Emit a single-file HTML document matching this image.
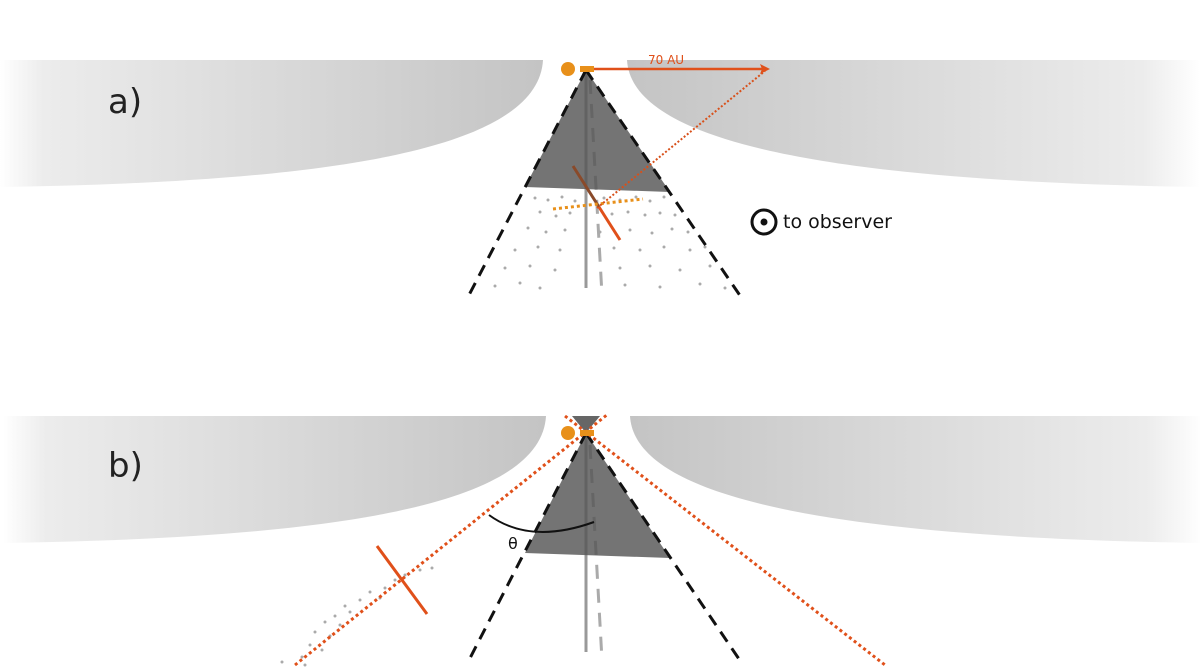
<!DOCTYPE html>
<html><head><meta charset="utf-8"><style>body{margin:0;background:#fff}svg{display:block}</style></head><body>
<svg width="1200" height="672" viewBox="0 0 1200 672" xmlns="http://www.w3.org/2000/svg" font-family="DejaVu Sans, Liberation Sans, sans-serif">
<defs>
<linearGradient id="gl" x1="0" x2="1" y1="0" y2="0"><stop offset="0" stop-color="#fff"/><stop offset="0.08" stop-color="#ececec"/><stop offset="1" stop-color="#c4c4c4"/></linearGradient>
<linearGradient id="gr" x1="0" x2="1" y1="0" y2="0"><stop offset="0" stop-color="#c4c4c4"/><stop offset="0.9" stop-color="#ececec"/><stop offset="1" stop-color="#fff"/></linearGradient>
<g id="disk">
<path d="M0,0 L543,0 C538,90 330,122 0,127 Z" fill="url(#gl)"/>
<path d="M627,0 L1200,0 L1200,127 C870,122 632,90 627,0 Z" fill="url(#gr)"/>
</g>
<g id="dots" fill="#aaa">
<circle cx="535" cy="198" r="1.5"/><circle cx="548" cy="200" r="1.5"/><circle cx="562" cy="197" r="1.5"/><circle cx="575" cy="201" r="1.5"/><circle cx="604" cy="198" r="1.5"/><circle cx="620" cy="200" r="1.5"/><circle cx="636" cy="197" r="1.5"/><circle cx="650" cy="201" r="1.5"/><circle cx="664" cy="197" r="1.5"/>
<circle cx="540" cy="212" r="1.5"/><circle cx="556" cy="216" r="1.5"/><circle cx="570" cy="213" r="1.5"/><circle cx="612" cy="214" r="1.5"/><circle cx="628" cy="212" r="1.5"/><circle cx="645" cy="215" r="1.5"/><circle cx="660" cy="213" r="1.5"/><circle cx="675" cy="215" r="1.5"/>
<circle cx="528" cy="228" r="1.5"/><circle cx="546" cy="232" r="1.5"/><circle cx="565" cy="230" r="1.5"/><circle cx="600" cy="232" r="1.5"/><circle cx="630" cy="230" r="1.5"/><circle cx="652" cy="233" r="1.5"/><circle cx="672" cy="229" r="1.5"/><circle cx="688" cy="232" r="1.5"/>
<circle cx="515" cy="250" r="1.5"/><circle cx="538" cy="247" r="1.5"/><circle cx="560" cy="250" r="1.5"/><circle cx="614" cy="248" r="1.5"/><circle cx="640" cy="250" r="1.5"/><circle cx="664" cy="247" r="1.5"/><circle cx="690" cy="250" r="1.5"/><circle cx="705" cy="247" r="1.5"/>
<circle cx="505" cy="268" r="1.5"/><circle cx="530" cy="266" r="1.5"/><circle cx="555" cy="270" r="1.5"/><circle cx="620" cy="268" r="1.5"/><circle cx="650" cy="266" r="1.5"/><circle cx="680" cy="270" r="1.5"/><circle cx="710" cy="266" r="1.5"/>
<circle cx="495" cy="286" r="1.5"/><circle cx="520" cy="283" r="1.5"/><circle cx="540" cy="288" r="1.5"/><circle cx="625" cy="285" r="1.5"/><circle cx="660" cy="287" r="1.5"/><circle cx="700" cy="284" r="1.5"/><circle cx="725" cy="288" r="1.5"/>
</g>
</defs>
<!-- panel a -->
<use href="#disk" transform="translate(0,60)"/>
<text x="108" y="113" font-size="34" fill="#222">a)</text>
<use href="#dots"/>
<line x1="586" y1="70" x2="586" y2="288" stroke="#999" stroke-width="3"/>
<line x1="590" y1="80" x2="602" y2="295" stroke="#aaa" stroke-width="3" stroke-dasharray="14,10"/>
<polygon points="586,70 525,187 670,192" fill="#555" opacity="0.82"/>
<line x1="586" y1="70" x2="468" y2="297" stroke="#111" stroke-width="3" stroke-dasharray="12,8"/>
<line x1="586" y1="70" x2="741" y2="297" stroke="#111" stroke-width="3" stroke-dasharray="12,8"/>
<line x1="573" y1="166" x2="599" y2="207" stroke="#8a4a2a" stroke-width="3"/>
<line x1="599" y1="207" x2="620" y2="240" stroke="#e0501a" stroke-width="3"/>
<line x1="553" y1="209" x2="643" y2="199" stroke="#e8901a" stroke-width="3" stroke-dasharray="3,3"/>
<line x1="597" y1="208" x2="765" y2="71" stroke="#d8501a" stroke-width="2" stroke-dasharray="2,2"/>
<line x1="585" y1="69" x2="762" y2="69" stroke="#e0501a" stroke-width="2.5"/>
<polygon points="770,69 760,64 762,69 760,74" fill="#e0501a"/>
<rect x="580" y="66" width="14" height="6" fill="#e8901a"/>
<circle cx="568" cy="69" r="7" fill="#e8901a"/>
<text x="648" y="64" font-size="12" fill="#e0501a">70 AU</text>
<circle cx="764" cy="222" r="12" fill="none" stroke="#111" stroke-width="3"/>
<circle cx="764" cy="222" r="3.5" fill="#111"/>
<text x="783" y="228" font-size="19" fill="#111">to observer</text>
<!-- panel b -->
<use href="#disk" transform="translate(3,416)"/>
<text x="108" y="477" font-size="34" fill="#222">b)</text>
<line x1="586" y1="433" x2="586" y2="652" stroke="#999" stroke-width="3"/>
<line x1="590" y1="445" x2="602" y2="660" stroke="#aaa" stroke-width="3" stroke-dasharray="14,10"/>
<polygon points="586,433 525,553 670,558" fill="#555" opacity="0.82"/>
<line x1="586" y1="433" x2="468" y2="662" stroke="#111" stroke-width="3" stroke-dasharray="12,8"/>
<line x1="586" y1="433" x2="741" y2="662" stroke="#111" stroke-width="3" stroke-dasharray="12,8"/>
<polygon points="572,416 600,416 586,433" fill="#666"/>
<g fill="#aaa">
<circle cx="420" cy="570" r="1.5"/><circle cx="432" cy="568" r="1.5"/><circle cx="405" cy="575" r="1.5"/><circle cx="395" cy="580" r="1.5"/><circle cx="385" cy="588" r="1.5"/><circle cx="370" cy="592" r="1.5"/><circle cx="360" cy="600" r="1.5"/><circle cx="380" cy="598" r="1.5"/><circle cx="345" cy="606" r="1.5"/><circle cx="335" cy="616" r="1.5"/><circle cx="350" cy="612" r="1.5"/><circle cx="325" cy="622" r="1.5"/><circle cx="340" cy="625" r="1.5"/><circle cx="315" cy="632" r="1.5"/><circle cx="330" cy="636" r="1.5"/><circle cx="310" cy="645" r="1.5"/><circle cx="322" cy="650" r="1.5"/><circle cx="302" cy="657" r="1.5"/><circle cx="282" cy="662" r="1.5"/><circle cx="305" cy="665" r="1.5"/>
</g>
<line x1="295" y1="665" x2="608" y2="414" stroke="#e0501a" stroke-width="3" stroke-dasharray="3,3"/>
<line x1="565" y1="416" x2="885" y2="665" stroke="#e0501a" stroke-width="3" stroke-dasharray="3,3"/>
<line x1="377" y1="546" x2="427" y2="614" stroke="#e0501a" stroke-width="3"/>
<path d="M489,515 Q530,545 594,522" fill="none" stroke="#111" stroke-width="2"/>
<text x="508" y="549" font-size="16" fill="#111">θ</text>
<rect x="580" y="430" width="14" height="6" fill="#e8901a"/>
<circle cx="568" cy="433" r="7" fill="#e8901a"/>
</svg>
</body></html>
